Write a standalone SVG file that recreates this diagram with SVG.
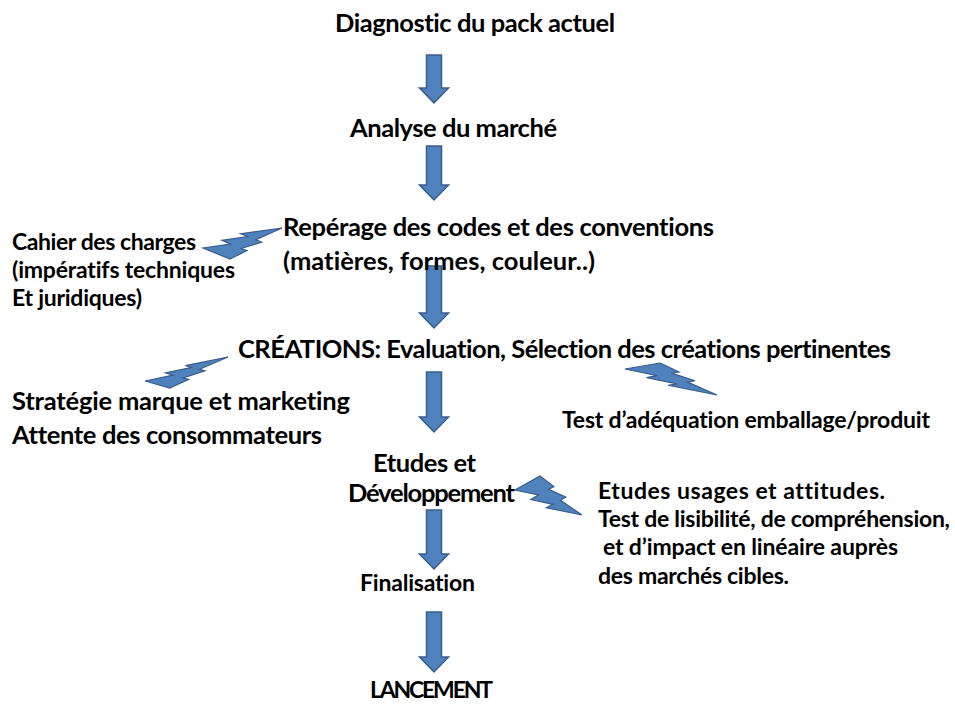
<svg xmlns="http://www.w3.org/2000/svg" xmlns:xlink="http://www.w3.org/1999/xlink" width="955" height="704" viewBox="0 0 955 704">
<style>
  text { font-family: Lato, "Open Sans", "Liberation Sans", sans-serif; font-weight: bold; fill: #000; font-variant-ligatures: none; font-feature-settings: "liga" 0, "clig" 0; }
  .big { font-size: 25.5px; }
  .small { font-size: 23px; }
  .arrow { fill: #4F81BD; stroke: #385D8A; stroke-width: 1.5; stroke-linejoin: miter; }
  .bolt { fill: #4F81BD; stroke: #385D8A; stroke-width: 1.2; stroke-linejoin: miter; }
</style>
<defs>
  <polygon id="boltShape" points="39.22,0 59.54,28.15 51.16,31.47 76.75,55.59 68.37,59.62 100,100 46.35,69.05 56.58,64.75 23.25,44.93 35.19,38.81 0,18.01" vector-effect="non-scaling-stroke"/>
</defs>
<rect width="955" height="704" fill="#fff"/>

<g id="connectors">
  <path class="arrow" d="M426.5 55 H441.5 V88 H448.5 L434 103 L419.5 88 H426.5 Z"/>
  <path class="arrow" d="M426.5 146 H441.5 V185 H448.5 L434 200 L419.5 185 H426.5 Z"/>
  <path class="arrow" d="M426.5 266 H441.5 V313 H448.5 L434 328 L419.5 313 H426.5 Z"/>
  <path class="arrow" d="M426.5 372 H441.5 V417 H448.5 L434 432 L419.5 417 H426.5 Z"/>
  <path class="arrow" d="M426.5 510 H441.5 V554 H448.5 L434 569 L419.5 554 H426.5 Z"/>
  <path class="arrow" d="M426.5 612 H441.5 V657 H448.5 L434 672 L419.5 657 H426.5 Z"/>
  <use class="bolt" xlink:href="#boltShape" href="#boltShape" transform="matrix(0.7249 0.1080 0.0794 -0.3757 201.57 254.77)"/>
  <use class="bolt" xlink:href="#boltShape" href="#boltShape" transform="matrix(0.7066 0.02823 0.1506 -0.3272 142.29 386.89)"/>
  <use class="bolt" xlink:href="#boltShape" href="#boltShape" transform="matrix(0.9023 -0.00472 0.02158 0.3229 624.61 363.19)"/>
  <use class="bolt" xlink:href="#boltShape" href="#boltShape" transform="matrix(0.6491 -0.1390 0.02549 0.4746 514.54 481.45)"/>
</g>

<g id="diagnostic"><text class="big" x="335" y="32" textLength="280">Diagnostic du pack actuel</text></g>
<g id="analyse"><text class="big" x="350" y="137" textLength="207">Analyse du marché</text></g>
<g id="reperage">
  <text class="big" x="283" y="236" textLength="431">Repérage des codes et des conventions</text>
  <text class="big" x="283" y="270" textLength="312">(matières, formes, couleur..)</text>
</g>
<g id="cahier">
  <text class="small" x="12" y="250" textLength="184">Cahier des charges</text>
  <text class="small" x="12" y="278" textLength="223">(impératifs techniques</text>
  <text class="small" x="12" y="306" textLength="130">Et juridiques)</text>
</g>
<g id="creations"><text class="big" x="238" y="358" textLength="653">CRÉATIONS: Evaluation, Sélection des créations pertinentes</text></g>
<g id="strategie">
  <text class="big" x="12" y="410" textLength="338">Stratégie marque et marketing</text>
  <text class="big" x="12" y="444" textLength="310">Attente des consommateurs</text>
</g>
<g id="test-adequation"><text class="small" x="562" y="428" textLength="368">Test d’adéquation emballage/produit</text></g>
<g id="etudes">
  <text class="big" x="373" y="472" textLength="103">Etudes et</text>
  <text class="big" x="348" y="502" textLength="167">Développement</text>
</g>
<g id="etudes-usages">
  <text class="small" x="598" y="499" textLength="287">Etudes usages et attitudes.</text>
  <text class="small" x="598" y="527" textLength="352">Test de lisibilité, de compréhension,</text>
  <text class="small" x="603" y="555" textLength="295">et d’impact en linéaire auprès</text>
  <text class="small" x="598" y="584" textLength="191">des marchés cibles.</text>
</g>
<g id="finalisation"><text class="small" x="360" y="591" textLength="115">Finalisation</text></g>
<g id="lancement"><text class="small" x="370" y="698" textLength="123">LANCEMENT</text></g>
</svg>
